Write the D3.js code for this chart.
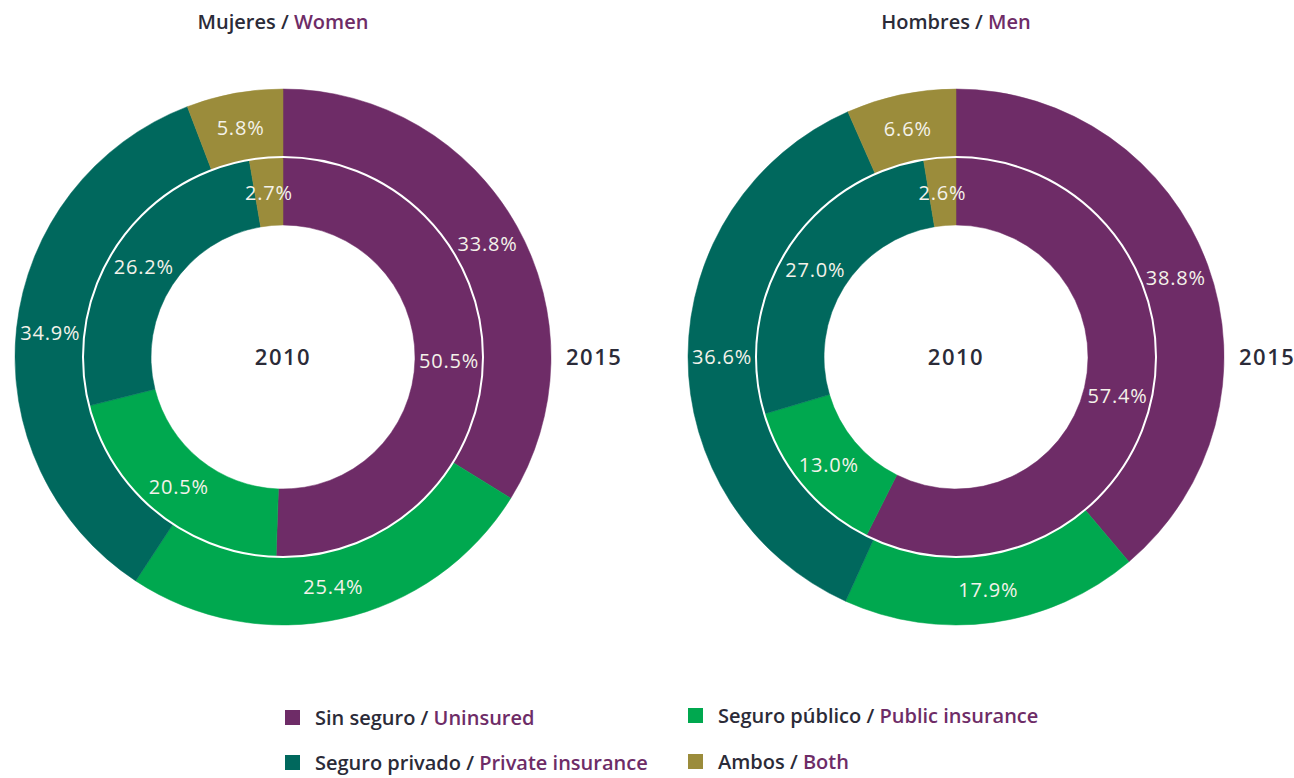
<!DOCTYPE html>
<html>
<head>
<meta charset="utf-8">
<script src="https://cdn.jsdelivr.net/npm/d3@7"></script>
<style>
  body { margin: 0; background: #fff; }
  text { font-family: "Open Sans", Lato, sans-serif; }
</style>
</head>
<body>
<div id="chart"></div>
<script>
// categories, in drawing order (clockwise from 12 o'clock)
var categories = ["Sin seguro", "Seguro público", "Seguro privado", "Ambos"];
var categoriesEn = ["Uninsured", "Public insurance", "Private insurance", "Both"];
var colors = ["#6e2c67", "#00a84f", "#00685d", "#9b8c3b"];

var women2010 = [50.5, 20.5, 26.2, 2.7];
var women2015 = [33.8, 25.4, 34.9, 5.8];
var men2010 = [57.4, 13.0, 27.0, 2.6];
var men2015 = [38.8, 17.9, 36.6, 6.6];

var panels = [
  {es: "Mujeres", en: "Women", inner: women2010, outer: women2015, cx: 283},
  {es: "Hombres", en: "Men", inner: men2010, outer: men2015, cx: 956}
];

var width = 1294, height = 778;
var cy = 357;
var textDark = "#2b2b38", textPurple = "#6e2c67";

var svg = d3.select("#chart").append("svg")
  .attr("width", width)
  .attr("height", height);

var pie = d3.pie().sort(null).value(function(d) { return d; });
var arcInner = d3.arc().innerRadius(132).outerRadius(200);
var arcOuter = d3.arc().innerRadius(200).outerRadius(268);

panels.forEach(function(p) {
  var g = svg.append("g").attr("transform", "translate(" + p.cx + "," + cy + ")");

  // title
  var t = svg.append("text")
    .attr("x", p.cx).attr("y", 29)
    .attr("text-anchor", "middle")
    .style("font-size", "20px").style("font-weight", 600)
    .attr("fill", textDark);
  t.append("tspan").text(p.es + " / ");
  t.append("tspan").attr("fill", textPurple).text(p.en);

  [[p.outer, arcOuter], [p.inner, arcInner]].forEach(function(ring) {
    var arcs = pie(ring[0]);
    g.append("g").selectAll("path")
      .data(arcs).enter().append("path")
        .attr("d", ring[1])
        .attr("fill", function(d, i) { return colors[i]; })
        .attr("stroke", function(d, i) { return colors[i]; })
        .attr("stroke-width", 0.5);
    g.append("g").selectAll("text")
      .data(arcs).enter().append("text")
        .attr("transform", function(d) { return "translate(" + ring[1].centroid(d) + ")"; })
        .attr("text-anchor", "middle")
        .attr("dy", "0.4em")
        .style("font-size", "20px")
        .style("letter-spacing", "0.8px")
        .attr("fill", "#f4f2ea")
        .text(function(d) { return d.data.toFixed(1) + "%"; });
  });

  // white ring between the two years
  g.append("circle").attr("r", 200)
    .attr("fill", "none").attr("stroke", "#fff").attr("stroke-width", 2);

  g.append("text").attr("text-anchor", "middle").attr("dy", "0.35em")
    .style("font-size", "22px").style("font-weight", 600).style("letter-spacing", "1.5px")
    .attr("fill", textDark).text("2010");
  g.append("text").attr("x", 283).attr("dy", "0.35em")
    .style("font-size", "22px").style("font-weight", 600).style("letter-spacing", "1.5px")
    .attr("fill", textDark).text("2015");
});

// legend
var legendPos = [[285, 718], [688, 716], [285, 763], [688, 762]];
var legendOrder = [0, 1, 2, 3];
legendOrder.forEach(function(ci, k) {
  var lx = legendPos[k][0], ly = legendPos[k][1];
  svg.append("rect").attr("x", lx).attr("y", ly - 8).attr("width", 15).attr("height", 15)
    .attr("fill", colors[ci]);
  var t = svg.append("text").attr("x", lx + 30).attr("y", ly + 7)
    .style("font-size", "20px").style("font-weight", 600).attr("fill", textDark);
  t.append("tspan").text(categories[ci] + " / ");
  t.append("tspan").attr("fill", textPurple).text(categoriesEn[ci]);
});
</script>
</body>
</html>
